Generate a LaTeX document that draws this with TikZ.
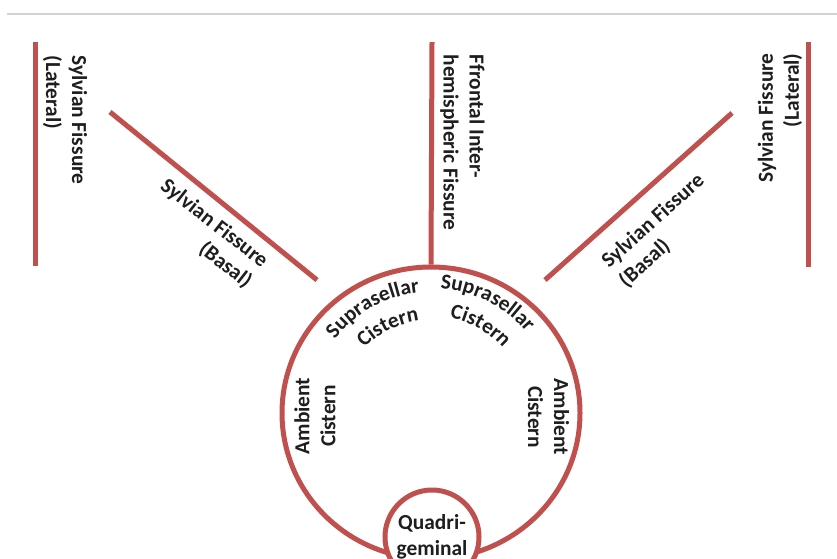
\documentclass[tikz,border=0pt]{standalone}
\usepackage{fontspec}
\setmainfont{Carlito}
\usetikzlibrary{shapes.geometric,decorations.text}
\definecolor{fis}{HTML}{C0504D}
\definecolor{txt}{HTML}{1E1E1E}
\newcommand\lblfont{\fontsize{21.4}{26}\selectfont\bfseries}
\tikzset{
  fline/.style={draw=fis, line width=5pt},
  lbl/.style={font=\lblfont, inner sep=0pt, text=txt},
  arctext/.style={decorate, decoration={text along path, text={|\color{txt}\lblfont|#1}, text align=center}}
}
\begin{document}
\begin{tikzpicture}[x=1pt,y=1pt]
\fill[white] (0,0) rectangle (837,-558);
\useasboundingbox (0,0) rectangle (837,-558);
% top rule
\coordinate (gA) at (7,-14); \coordinate (gB) at (837,-14);
\draw[gray!35, line width=1.5pt] (gA) -- (gB);
% free ends
\coordinate (lLt) at (35,-42); \coordinate (lLb) at (35,-266);
\coordinate (rLt) at (808,-42); \coordinate (rLb) at (808,-267);
\coordinate (cT) at (432,-42);
\coordinate (dLa) at (110,-112); \coordinate (dLb) at (317,-280);
\coordinate (dRa) at (732,-113); \coordinate (dRb) at (545,-280);
% big cistern ring
\node[fline, ellipse, minimum width=298pt, minimum height=292pt, inner sep=0pt] (amb) at (431,-413) {};
\draw[fline] (lLt) -- (lLb);
\draw[fline] (rLt) -- (rLb);
\draw[fline] (cT) -- (amb.north);
\draw[fline] (dLa) -- (dLb);
\draw[fline] (dRa) -- (dRb);
% small circle
\node[fline, circle, fill=white, minimum size=94pt, inner sep=0pt] (qc) at (432,-537) {};
% labels
\node[lbl, rotate=-90, align=left] (latL) at (65,-120) {Sylvian Fissure\\(Lateral)};
\node[lbl, rotate=-90, align=left] (ihf) at (462.5,-142.5) {Ffrontal Inter-\\hemispheric Fissure};
\node[lbl, rotate=90, align=right] (latR) at (780,-118) {Sylvian Fissure\\(Lateral)};
\node[lbl, rotate=-38, align=right] (basL) at (206,-234) {Sylvian Fissure\\(Basal)};
\node[lbl, rotate=42, align=left] (basR) at (662,-231) {Sylvian Fissure\\(Basal)};
\node[lbl, rotate=90, align=center] (ambL) at (315,-416) {Ambient\\Cistern};
\node[lbl, rotate=-90, align=center] (ambR) at (548.5,-417) {Ambient\\Cistern};
\node[lbl, align=center] (quad) at (432,-536.5) {Quadri-\\geminal};
% arched labels
\path[arctext=Suprasellar] ([shift={(160:121)}]amb.center) arc[start angle=160, end angle=78, radius=121];
\path[arctext=Cistern] ([shift={(150:93)}]amb.center) arc[start angle=150, end angle=83, radius=93];
\path[arctext=Suprasellar] ([shift={(104:125)}]amb.center) arc[start angle=104, end angle=22, radius=125];
\path[arctext=Cistern] ([shift={(94:97)}]amb.center) arc[start angle=94, end angle=27, radius=97];
\end{tikzpicture}
\end{document}
